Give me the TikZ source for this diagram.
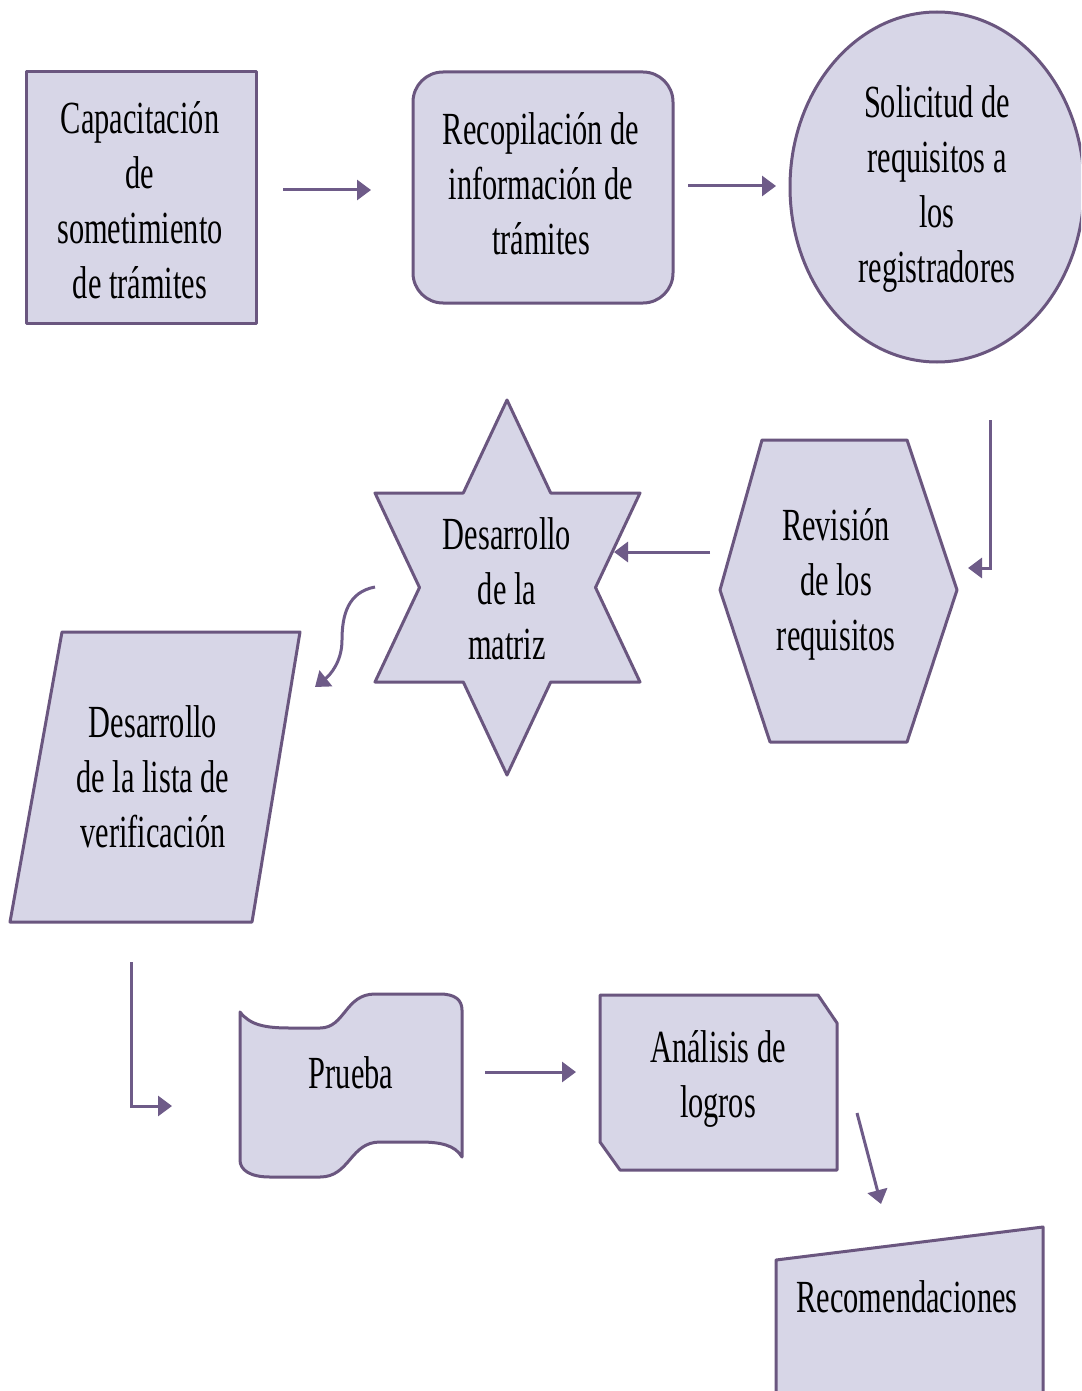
\documentclass[tikz,border=0pt]{standalone}
\usepackage{fontspec}
\setmainfont{Liberation Serif}[FakeStretch=0.66]
\usetikzlibrary{arrows.meta}
\definecolor{fillc}{HTML}{D7D6E7}
\definecolor{linec}{HTML}{6A567F}
\definecolor{arrc}{HTML}{6E5B88}
\begin{document}
\begin{tikzpicture}[x=1pt,y=-1pt,
  blk/.style={fill=fillc, draw=linec, line width=3pt, line join=round},
  lbl/.style={align=center, font=\fontsize{46}{55}\selectfont, inner sep=0pt},
  arr/.style={draw=arrc, line width=3pt, -{Triangle[length=14pt,width=20pt]}}]
\clip (0,0) rectangle (1081,1391);
\fill[white] (0,0) rectangle (1081,1391);
% shapes
\draw[blk] (26,72) rectangle (256,323);
\draw[blk, rounded corners=30pt] (413,72) rectangle (673,303);
\draw[blk] (937,187) ellipse [x radius=147, y radius=175];
\draw[blk] (762,440) -- (907,440) -- (957,590) -- (907,742) -- (770,742) -- (720,590) -- cycle;
\draw[blk] (507,400) -- (550.7,493) -- (640,493) -- (595.5,587.5) -- (640,682) -- (550.7,682)
  -- (507,775) -- (463.3,682) -- (375,682) -- (419.5,587.5) -- (375,493) -- (463.3,493) -- cycle;
\draw[blk] (62,632) -- (300,632) -- (252,922) -- (10,922) -- cycle;
\draw[blk] (240,1012) .. controls (250,1025) and (265,1028) .. (290,1028) -- (320,1028)
  .. controls (345,1028) and (345,994) .. (375,994) -- (440,994)
  .. controls (455,994) and (462,1000) .. (462,1010) -- (462,1157)
  .. controls (455,1145) and (440,1142) .. (420,1142) -- (380,1142)
  .. controls (350,1142) and (350,1177) .. (320,1177) -- (270,1177)
  .. controls (250,1177) and (240,1170) .. (240,1160) -- cycle;
\draw[blk] (600,995) -- (818,995) -- (837,1023) -- (837,1170) -- (620,1170) -- (600,1142) -- cycle;
\draw[blk] (776,1260) -- (1043,1227) -- (1043,1420) -- (776,1420) -- cycle;
% labels
\node[lbl] (n1) at (140,200) {Capacitación\\de\\sometimiento\\de trámites};
\node[lbl] (n2) at (541,184) {Recopilación de\\información de\\trámites};
\node[lbl] (n3) at (937,189) {Solicitud de\\requisitos a\\los\\registradores};
\node[lbl] (n4) at (836,584) {Revisión\\de los\\requisitos};
\node[lbl] (n5) at (507,589) {Desarrollo\\de la\\matriz};
\node[lbl] (n6) at (153,777) {Desarrollo\\de la lista de\\verificación};
\node[lbl] (n7) at (351,1073) {Prueba};
\node[lbl] (n8) at (718,1079) {Análisis de\\logros};
\node[lbl] (n9) at (907,1297) {Recomendaciones};
% connector ends
\coordinate (a1) at (283,190); \coordinate (a2) at (371,190);
\coordinate (b1) at (688,186); \coordinate (b2) at (776,186);
\coordinate (c1) at (990,420); \coordinate (c2) at (968,568);
\coordinate (d1) at (710,552); \coordinate (d2) at (614,552);
\coordinate (e1) at (375,587); \coordinate (e2) at (315,687);
\coordinate (f1) at (131,962); \coordinate (f2) at (172,1106);
\coordinate (g1) at (485,1072); \coordinate (g2) at (576,1072);
\coordinate (h1) at (857,1113); \coordinate (h2) at (881,1204);
\draw[arr] (a1) -- (a2);
\draw[arr] (b1) -- (b2);
\draw[arr] (c1) |- (c2);
\draw[arr] (d1) -- (d2);
\draw[arr] (e1) .. controls (348,592) and (342,615) .. (342,640) .. controls (342,662) and (330,675) .. (e2);
\draw[arr] (f1) |- (f2);
\draw[arr] (g1) -- (g2);
\draw[arr] (h1) -- (h2);
\end{tikzpicture}
\end{document}
